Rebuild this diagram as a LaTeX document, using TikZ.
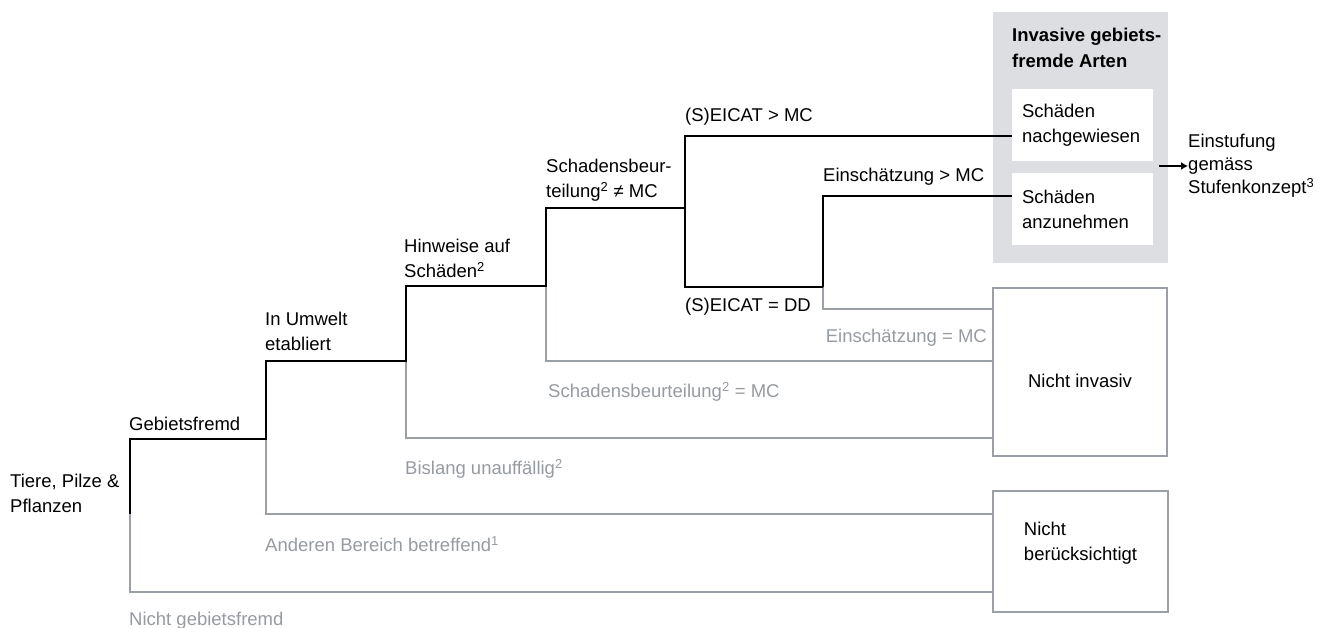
\documentclass[tikz,border=0pt]{standalone}
\usepackage{fontspec}
\setmainfont{Liberation Sans}
\usetikzlibrary{positioning,arrows.meta}
\definecolor{linegray}{RGB}{155,160,166}
\definecolor{boxgray}{RGB}{220,222,225}
\definecolor{textgray}{RGB}{150,155,161}
\tikzset{
  yespath/.style={draw=black,line width=2.3pt},
  nopath/.style={draw=linegray,line width=2.3pt},
  lbl/.style={inner sep=0pt,anchor=south west,align=left,text depth=0pt},
  nolbl/.style={lbl,text=textgray},
  harmbox/.style={fill=white,text width=121pt,inner xsep=10pt,minimum height=72pt,align=left},
  outbox/.style={draw=linegray,line width=2.3pt,fill=white,align=left,text depth=0pt}
}
\begin{document}
\begin{tikzpicture}[x=1pt,y=-1pt,font=\fontsize{18.5}{25}\selectfont]
    \useasboundingbox (0,0) rectangle (1337,628);
    % branch points
    \coordinate (root) at (130,514);
    \coordinate (gf) at (266,439);
    \coordinate (um) at (406,361);
    \coordinate (hw) at (546,286);
    \coordinate (sb) at (685,208);
    \coordinate (dd) at (823,287);
    % line ends
    \coordinate (e1) at (1012,136);
    \coordinate (e2) at (1012,196);
    \coordinate (n1) at (993,309);
    \coordinate (n2) at (993,361);
    \coordinate (n3) at (993,438);
    \coordinate (n4) at (993,514);
    \coordinate (n5) at (993,592);
    \node[fill=boxgray,minimum width=175pt,minimum height=251pt,inner sep=0pt] (inv) at (1080.5,137.5) {};
    \node[lbl,font=\fontsize{18.5}{26}\selectfont\bfseries] (invtitle) at (1012,68) {Invasive gebiets-\\fremde Arten};
    % no
    \draw[nopath] (root) |- (n5);
    \draw[nopath] (gf) |- (n4);
    \draw[nopath] (um) |- (n3);
    \draw[nopath] (hw) |- (n2);
    \draw[nopath] (dd) |- (n1);
    % yes
    \draw[yespath] (root) |- (gf) |- (um) |- (hw) |- (sb);
    \draw[yespath] (sb) |- (e1);
    \draw[yespath] (sb) |- (dd);
    \draw[yespath] (dd) |- (e2);
    \node[harmbox] (s1) at (1082.5,125) {Schäden\\nachgewiesen};
    \node[harmbox,below=12pt of s1] (s2) {Schäden\\anzunehmen};
    \node[outbox,minimum width=174pt,minimum height=168pt,text height=30pt] (ni) at (1080,372) {Nicht invasiv};
    \node[outbox,minimum width=175pt,minimum height=121pt,text height=18pt] (nb) at (1080.5,551.5) {Nicht\\berücksichtigt};
    \coordinate (a0) at (1159,166);
    \node[inner sep=0pt,align=left,font=\fontsize{18.5}{23}\selectfont,right=29pt of a0] (est) {Einstufung\\gemäss\\Stufenkonzept\textsuperscript{3}};
    \draw[line width=2pt,-{Latex[length=7pt,width=8pt]}] (a0) -- (est);
    % labels
    \node[lbl] (tiere) at (10,513) {Tiere, Pilze \&\\Pflanzen};
    \node[lbl] (lgf) at (129,431) {Gebietsfremd};
    \node[lbl] (lum) at (265,351) {In Umwelt\\etabliert};
    \node[lbl] (lhw) at (404,278) {Hinweise auf\\Schäden\textsuperscript{2}};
    \node[lbl] (lsb) at (546,198) {Schadensbeur-\\teilung\textsuperscript{2} ≠ MC};
    \node[lbl] (lmc1) at (685,122) {(S)EICAT > MC};
    \node[lbl] (lmc2) at (823,182) {Einschätzung > MC};
    \node[lbl] (ldd) at (685,312) {(S)EICAT = DD};
    \node[nolbl,anchor=south east] (nein1) at (987,343) {Einschätzung = MC};
    \node[nolbl] (nsb) at (548,398) {Schadensbeurteilung\textsuperscript{2} = MC};
    \node[nolbl] (nhw) at (405,475) {Bislang unauffällig\textsuperscript{2}};
    \node[nolbl] (num) at (265,552) {Anderen Bereich betreffend\textsuperscript{1}};
    \node[nolbl] (ngf) at (129,626) {Nicht gebietsfremd};
\end{tikzpicture}
\end{document}
